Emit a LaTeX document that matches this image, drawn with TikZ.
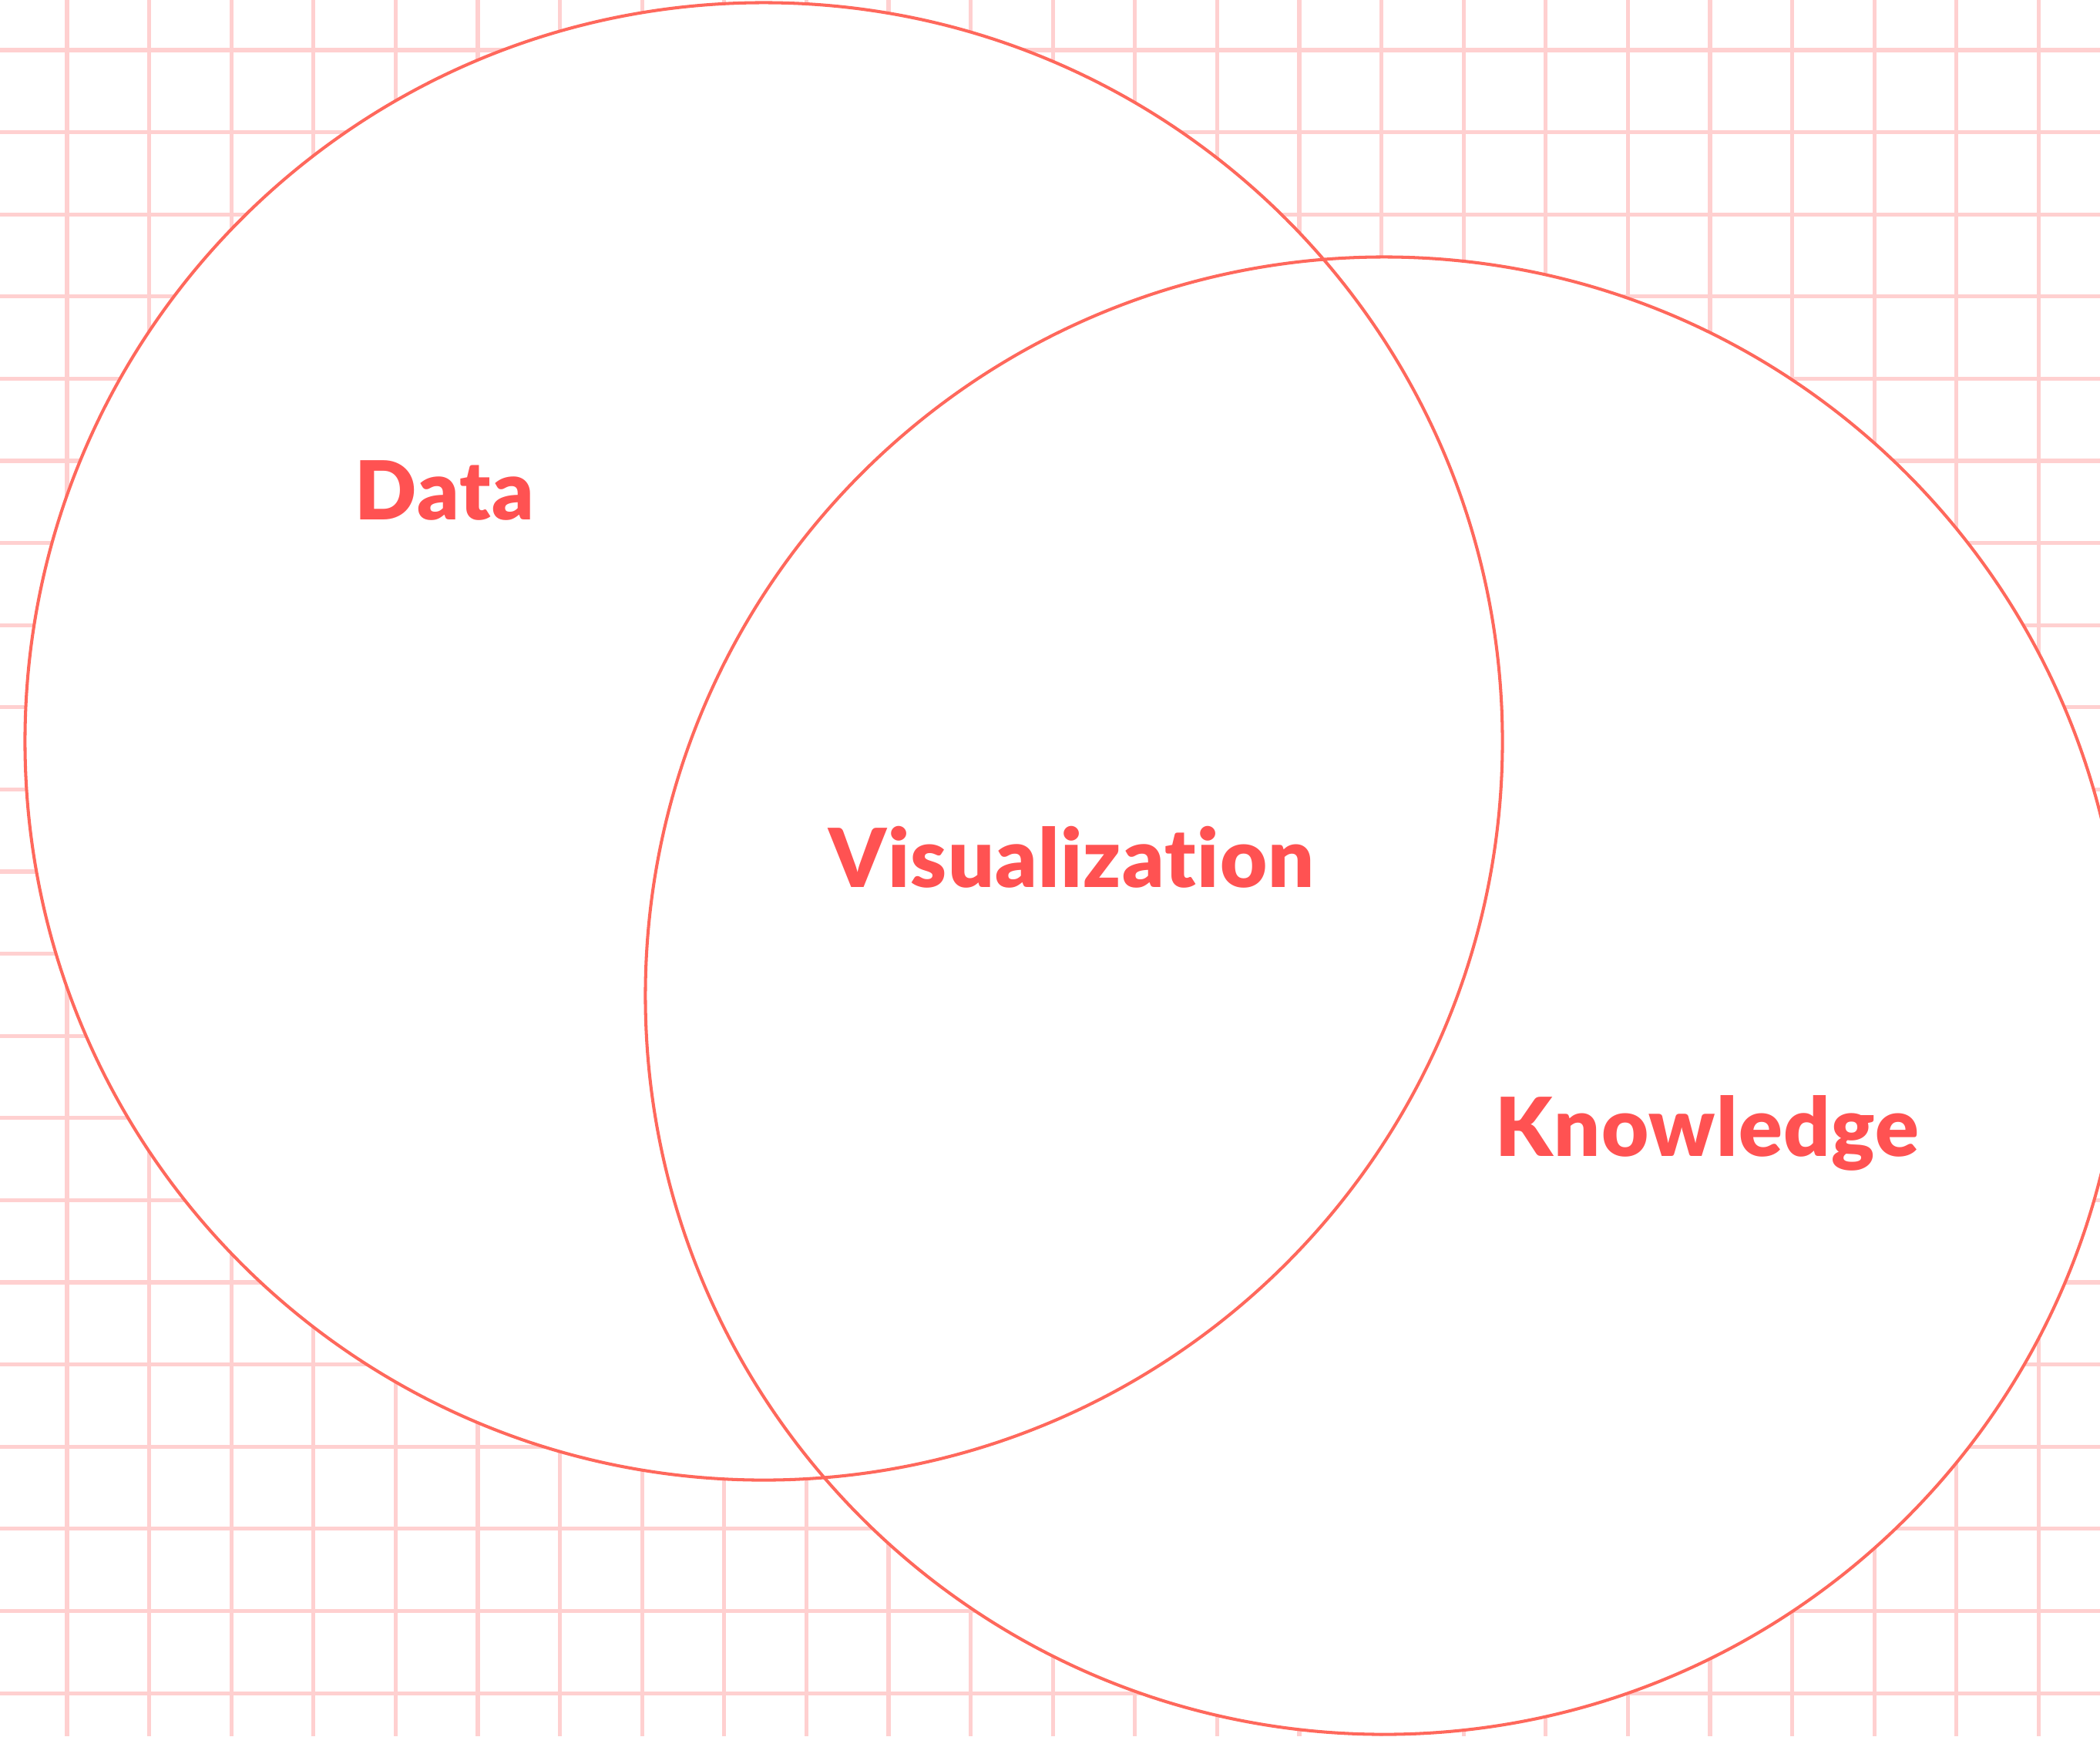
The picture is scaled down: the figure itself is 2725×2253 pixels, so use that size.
\documentclass[tikz,border=0pt]{standalone}
\usepackage{fontspec}
\setmainfont{Lato}[BoldFont={Lato Black}, Ligatures=NoCommon,
  BoldFeatures={LetterSpace=1.3}]
\usepackage{tikz}
\usetikzlibrary{positioning}
\usepackage{xcolor}
\definecolor{cgrid}{RGB}{255,208,208}
\definecolor{cring}{RGB}{255,104,92}
\definecolor{ctext}{RGB}{255,82,82}
\tikzset{
  gridline/.style={
    draw=cgrid, line width=1.45pt
  },
  ring/.style={
    draw=cring, line width=1.15pt
  },
  venntext/.style={
    text=ctext, anchor=base west, inner sep=0pt,
    font=\fontsize{30}{36}\selectfont\bfseries
  }
}

\begin{document}
\begin{tikzpicture}[x=0.01cm, y=-0.01cm]

    \useasboundingbox (0,0) rectangle (2725,2253);

    %% ---- Background grid -------------------------------------------
    \foreach \i in {0,...,25}{
      \draw[gridline] ({87+106.6*\i},0) -- ++(0,2253);
    }
    \foreach \j in {0,...,20}{
      \draw[gridline] (0,{65+106.6*\j}) -- ++(2725,0);
    }

    %% ---- Circles ---------------------------------------------------
    \coordinate (dataC) at (991,962);
    \coordinate (knowC) at (1796,1292);

    \fill[white] (dataC) circle[radius=9.58cm];
    \fill[white] (knowC) circle[radius=9.58cm];
    \draw[ring] (dataC) circle[radius=9.58cm];
    \draw[ring] (knowC) circle[radius=9.58cm];

    %% ---- Labels ----------------------------------------------------
    \node[venntext] (data) at (460,674)   {Data};
    \node[venntext] (vis)  at (1075,1151) {Visualization};
    \node[venntext] (know) at (1940,1500) {Knowledge};

\end{tikzpicture}
\end{document}
